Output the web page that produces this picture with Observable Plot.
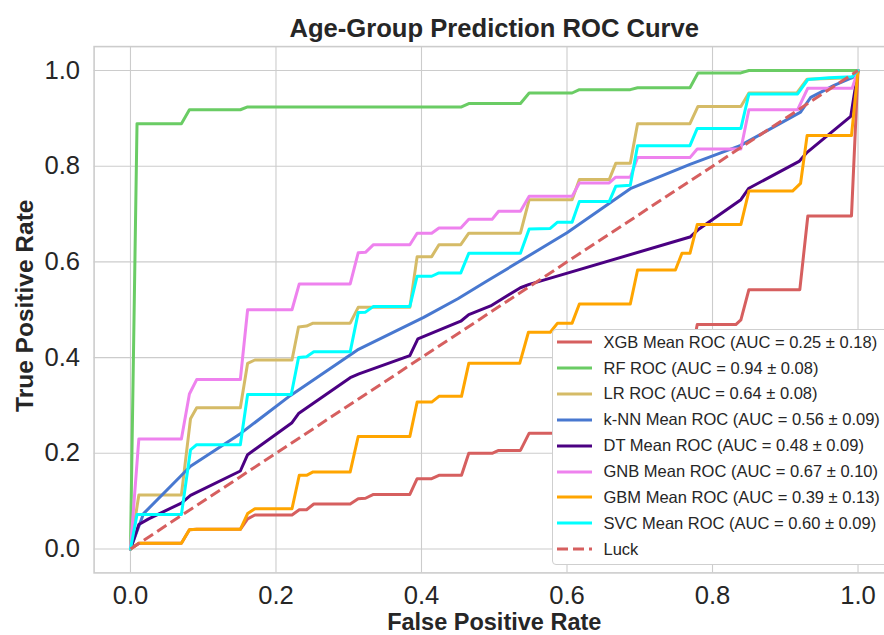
<!DOCTYPE html>
<html><head><meta charset="utf-8">
<script src="https://cdn.jsdelivr.net/npm/d3@7"></script>
<script src="https://cdn.jsdelivr.net/npm/@observablehq/plot@0.6"></script>
<style>
body{margin:0;background:#fff;}
#wrap{position:relative;width:884px;height:635px;overflow:hidden;font-family:"Liberation Sans",Arial,sans-serif;}
#legend{position:absolute;left:551.5px;top:328.5px;width:360px;height:236px;background:#fff;border:1px solid #cfcfcf;border-radius:4px;box-sizing:border-box;}
.row{position:absolute;left:4px;height:26px;display:flex;align-items:center;font-size:16.5px;color:#262626;white-space:nowrap;}
.row svg{margin-right:12px;flex:none;}
</style></head><body><div id="wrap"><div id="legend"></div></div>
<script>
// ---- data ----
const xgbFpr = [0,0.0115,0.070,0.081,0.091,0.151,0.161,0.171,0.222,0.232,0.242,0.252,0.302,0.313,0.323,0.334,0.384,0.394,0.414,0.424,0.455,0.465,0.497,0.506,0.536,0.548,0.607,0.617,0.687,0.697,0.769,0.779,0.832,0.839,0.850,0.920,0.931,0.991,1];
const xgbTpr = [0,0.012,0.012,0.040,0.041,0.041,0.063,0.071,0.071,0.082,0.082,0.094,0.094,0.105,0.106,0.114,0.114,0.147,0.147,0.154,0.154,0.200,0.200,0.206,0.206,0.242,0.242,0.29,0.29,0.39,0.39,0.469,0.469,0.479,0.542,0.542,0.696,0.696,1];

const rfFpr = [0,0.009,0.070,0.081,0.151,0.161,0.455,0.465,0.536,0.548,0.607,0.617,0.687,0.697,0.769,0.780,0.839,0.850,1];
const rfTpr = [0,0.889,0.889,0.918,0.918,0.924,0.924,0.931,0.931,0.953,0.953,0.960,0.960,0.964,0.964,0.995,0.995,1,1];

const lrFpr = [0,0.0115,0.070,0.0825,0.091,0.151,0.161,0.171,0.222,0.231,0.242,0.251,0.302,0.313,0.384,0.394,0.414,0.424,0.454,0.465,0.536,0.548,0.607,0.617,0.658,0.667,0.687,0.697,0.769,0.780,0.839,0.850,0.916,0.930,0.992,1];
const lrTpr = [0,0.113,0.113,0.272,0.295,0.295,0.388,0.395,0.395,0.464,0.466,0.472,0.472,0.505,0.505,0.611,0.611,0.636,0.636,0.660,0.660,0.730,0.730,0.772,0.772,0.806,0.806,0.889,0.889,0.925,0.925,0.953,0.953,0.982,0.985,1];

const knnFpr = [0,0.018,0.0825,0.151,0.220,0.312,0.403,0.450,0.490,0.600,0.687,0.769,0.838,0.921,0.935,0.967,0.992,1];
const knnTpr = [0,0.074,0.173,0.241,0.321,0.416,0.484,0.523,0.560,0.661,0.753,0.804,0.843,0.913,0.944,0.969,0.985,1];

const dtFpr = [0,0.0115,0.025,0.070,0.0825,0.151,0.161,0.222,0.231,0.302,0.314,0.384,0.395,0.454,0.465,0.495,0.536,0.548,0.769,0.780,0.839,0.850,0.919,0.930,0.990,1];
const dtTpr = [0,0.051,0.063,0.096,0.112,0.163,0.197,0.264,0.283,0.358,0.366,0.404,0.439,0.476,0.490,0.508,0.546,0.553,0.652,0.667,0.730,0.754,0.810,0.829,0.904,1];

const gnbFpr = [0,0.0115,0.070,0.081,0.091,0.151,0.161,0.222,0.232,0.302,0.313,0.323,0.334,0.384,0.394,0.414,0.424,0.454,0.465,0.497,0.506,0.536,0.548,0.607,0.617,0.658,0.667,0.687,0.697,0.769,0.779,0.839,0.850,0.917,0.931,0.992,1];
const gnbTpr = [0,0.230,0.230,0.324,0.354,0.354,0.500,0.500,0.554,0.554,0.619,0.620,0.636,0.636,0.660,0.660,0.671,0.671,0.689,0.689,0.706,0.706,0.737,0.737,0.765,0.765,0.777,0.777,0.818,0.818,0.836,0.836,0.918,0.918,0.963,0.963,1];

const gbmFpr = [0,0.0115,0.070,0.081,0.091,0.151,0.161,0.171,0.222,0.232,0.242,0.251,0.302,0.313,0.384,0.394,0.414,0.424,0.455,0.465,0.535,0.547,0.577,0.587,0.607,0.617,0.687,0.697,0.749,0.758,0.769,0.779,0.839,0.850,0.910,0.921,0.930,0.991,1];
const gbmTpr = [0,0.012,0.012,0.040,0.041,0.041,0.074,0.084,0.084,0.154,0.154,0.161,0.161,0.235,0.235,0.307,0.307,0.319,0.319,0.388,0.388,0.453,0.453,0.472,0.472,0.512,0.512,0.583,0.583,0.618,0.618,0.678,0.678,0.748,0.748,0.764,0.864,0.864,1];

const svcFpr = [0,0.009,0.070,0.0825,0.091,0.151,0.161,0.221,0.231,0.242,0.252,0.302,0.313,0.323,0.334,0.384,0.394,0.414,0.424,0.454,0.465,0.536,0.548,0.577,0.587,0.607,0.617,0.658,0.667,0.687,0.697,0.769,0.779,0.839,0.850,0.917,0.931,0.960,0.992,1];
const svcTpr = [0,0.072,0.072,0.207,0.218,0.218,0.323,0.323,0.400,0.402,0.412,0.412,0.494,0.495,0.507,0.507,0.570,0.570,0.577,0.577,0.618,0.618,0.669,0.670,0.683,0.683,0.726,0.726,0.758,0.760,0.843,0.843,0.879,0.879,0.951,0.951,0.981,0.985,0.987,1];

const luckFpr = [0,1];
const luckTpr = [0,1];

const seriesNames = ["XGB","RF","LR","k-NN","DT","GNB","GBM","SVC"];
const seriesLabels = [
  "XGB Mean ROC (AUC = 0.25 \u00b1 0.18)",
  "RF ROC (AUC = 0.94 \u00b1 0.08)",
  "LR ROC (AUC = 0.64 \u00b1 0.08)",
  "k-NN Mean ROC (AUC = 0.56 \u00b1 0.09)",
  "DT Mean ROC (AUC = 0.48 \u00b1 0.09)",
  "GNB Mean ROC (AUC = 0.67 \u00b1 0.10)",
  "GBM Mean ROC (AUC = 0.39 \u00b1 0.13)",
  "SVC Mean ROC (AUC = 0.60 \u00b1 0.09)"
];
const seriesColors = ["#d65f5f","#6acc64","#d5bb67","#4878d0","#4b0082","#ee82ee","#ffa500","#00ffff"];
const luckLabel = "Luck";
const luckColor = "#d65f5f";
const tickValues = [0,0.2,0.4,0.6,0.8,1.0];

const fprs = [xgbFpr,rfFpr,lrFpr,knnFpr,dtFpr,gnbFpr,gbmFpr,svcFpr];
const tprs = [xgbTpr,rfTpr,lrTpr,knnTpr,dtTpr,gnbTpr,gbmTpr,svcTpr];
const toRows = (fx, ty) => fx.map((x, i) => ({x, y: ty[i]}));

const textColor = "#262626";
const gridColor = "#cccccc";

const marks = [
  Plot.gridX(tickValues, {stroke: gridColor, strokeOpacity: 1, strokeWidth: 1.1}),
  Plot.gridY(tickValues, {stroke: gridColor, strokeOpacity: 1, strokeWidth: 1.1}),
  Plot.frame({stroke: gridColor, strokeWidth: 1.6}),
  Plot.axisX(tickValues, {tickSize: 0, tickPadding: 12.5, tickFormat: d3.format(".1f"), fontSize: 25.6, label: null}),
  Plot.axisY(tickValues, {tickSize: 0, tickPadding: 14, tickFormat: d3.format(".1f"), fontSize: 25.6, label: null})
];
seriesNames.forEach((n, k) => {
  marks.push(Plot.line(toRows(fprs[k], tprs[k]), {x: "x", y: "y", stroke: seriesColors[k], strokeWidth: 3}));
});
marks.push(Plot.line(toRows(luckFpr, luckTpr), {x: "x", y: "y", stroke: luckColor, strokeWidth: 3, strokeDasharray: "11,5", strokeLinecap: "butt"}));
marks.push(Plot.text(["Age-Group Prediction ROC Curve"], {frameAnchor: "top", lineAnchor: "bottom", dy: -9.6, fontSize: 25.6, fontWeight: "bold", fill: textColor}));
marks.push(Plot.text(["False Positive Rate"], {frameAnchor: "bottom", lineAnchor: "bottom", dy: 57.5, fontSize: 23.5, fontWeight: "bold", fill: textColor}));
marks.push(Plot.text(["True Positive Rate"], {frameAnchor: "left", textAnchor: "middle", lineAnchor: "bottom", rotate: -90, dx: -61, dy: -4, fontSize: 24.5, fontWeight: "bold", fill: textColor}));

const chart = Plot.plot({
  width: 884,
  height: 635,
  marginTop: 46.1,
  marginBottom: 62.6,
  marginLeft: 93.6,
  marginRight: -9.9,
  x: {domain: [-0.05, 1.05]},
  y: {domain: [-0.05, 1.05]},
  style: {fontFamily: '"Liberation Sans", Arial, sans-serif', color: textColor, background: "#fff", overflow: "hidden"},
  marks
});
const wrap = document.getElementById("wrap");
wrap.insertBefore(chart, wrap.firstChild);

// legend
const legend = document.getElementById("legend");
const entries = seriesLabels.map((l, i) => ({label: l, color: seriesColors[i], dash: null}));
entries.push({label: luckLabel, color: luckColor, dash: "11,5"});
entries.forEach((e, i) => {
  const row = document.createElement("div");
  row.className = "row";
  row.style.top = (342.3 + i * 25.84 - 13 - 329.5) + "px";
  const ns = "http://www.w3.org/2000/svg";
  const s = document.createElementNS(ns, "svg");
  s.setAttribute("width", "35"); s.setAttribute("height", "8");
  const ln = document.createElementNS(ns, "line");
  ln.setAttribute("x1", "0"); ln.setAttribute("x2", "35");
  ln.setAttribute("y1", "4"); ln.setAttribute("y2", "4");
  ln.setAttribute("stroke", e.color); ln.setAttribute("stroke-width", "3");
  if (e.dash) ln.setAttribute("stroke-dasharray", e.dash);
  s.appendChild(ln);
  row.appendChild(s);
  const t = document.createElement("span");
  t.textContent = e.label;
  row.appendChild(t);
  legend.appendChild(row);
});
</script>
</body></html>
